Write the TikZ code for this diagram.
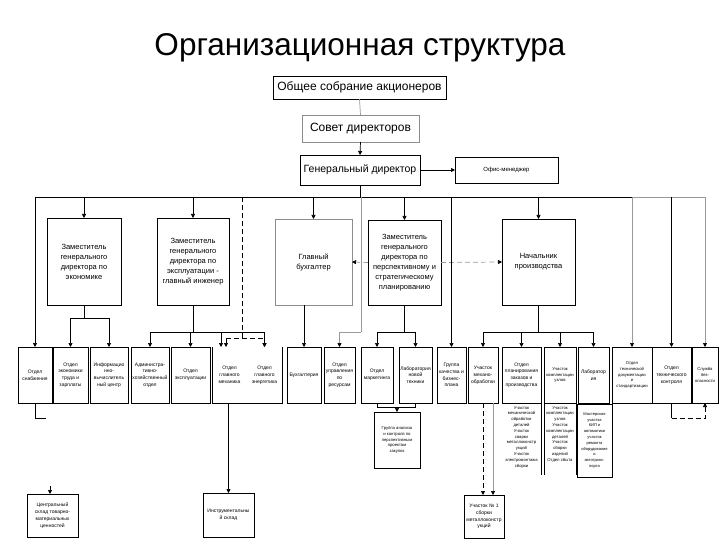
\documentclass[tikz,border=0pt]{standalone}
\usepackage{fontspec}
\setmainfont{Liberation Sans}
\usetikzlibrary{arrows.meta}
\newcommand\ubox[7][]{\node[box,#1,minimum width={#4-#2}, minimum height={#5-#3}, anchor=north west] (#6) at (#2,#3) {#7};}
\begin{document}
\begin{tikzpicture}[x=1pt,y=-1pt,
  box/.style={draw=black, line width=0.7pt, inner sep=0.5pt, outer sep=0pt, align=center},
  gbox/.style={draw=black!45},
  nobox/.style={draw=none},
  ln/.style={line width=0.7pt, draw=black},
  gln/.style={line width=0.7pt, draw=black!40},
  tip/.style={-{Triangle[length=4pt,width=4pt,color=black]}},
  arr/.style={ln, tip},
  garr/.style={gln, tip},
  dsh/.style={ln, dash pattern=on 5pt off 3pt},
  gdsh/.style={gln, dash pattern=on 5pt off 3pt},
  f12/.style={font=\fontsize{12}{14}\selectfont},
  f10/.style={font=\fontsize{10.5}{12}\selectfont},
  f7/.style={font=\fontsize{7.5}{10}\selectfont},
  f5/.style={font=\fontsize{5}{6.8}\selectfont},
  f4/.style={font=\fontsize{4.2}{5.8}\selectfont},
]
\useasboundingbox (0,0) rectangle (720,540);
\fill[white] (0,0) rectangle (720,540);

% title
\node[font=\fontsize{31.5}{35}\selectfont] (title) at (360,48) {Организационная структура};

% top levels
\ubox[f12]{273}{76}{446}{99}{osa}{Общее собрание акционеров}
\ubox[gbox,f12]{302}{115}{419}{142}{sd}{Совет директоров}
\ubox[f10]{300}{155}{420}{185}{gd}{Генеральный директор}
\ubox[font=\fontsize{6}{7}\selectfont]{455}{157}{558}{183}{om}{Офис-менеджер}

\draw[gln] (osa.south) -- (sd.north);
\draw[arr] (sd.south) -- (gd.north);
\draw[arr] (gd.east) -- (om.west);

% bus
\coordinate (bus) at (360,197);
\coordinate (busL) at (35,197);
\coordinate (busM) at (632,197);
\coordinate (busR) at (705,197);
\draw[ln] (gd.south) -- (bus);
\draw[ln] (busL) -- (busM);
\draw[gln] (busM) -- (busR);

% second level
\ubox[f7]{47}{218}{121}{305}{e1}{Заместитель\\генерального\\директора по\\экономике}
\ubox[f7]{157}{218}{229}{305}{e2}{Заместитель\\генерального\\директора по\\эксплуатации -\\главный инженер}
\ubox[gbox,f7]{275}{219}{352}{305}{gb}{Главный\\бухгалтер}
\ubox[f7]{368}{220}{441}{305}{e4}{Заместитель\\генерального\\директора по\\перспективному и\\стратегическому\\планированию}
\ubox[f7]{502}{219}{575}{305}{e5}{Начальник\\производства}

\draw[arr] (e1.north |- bus) -- (e1.north);
\draw[arr] (e2.north |- bus) -- (e2.north);
\draw[arr] (gb.north |- bus) -- (gb.north);
\draw[arr] (e4.north |- bus) -- (e4.north);
\draw[arr] (e5.north |- bus) -- (e5.north);

\draw[gdsh, tip] (e4.west) -- (gb.east);
\draw[gdsh, tip] (e4.east) -- (e5.west);

% bottom row
\ubox[f5]{18}{347}{52}{403}{b1}{Отдел\\снабжения}
\ubox[f5]{53}{347}{88}{403}{b2}{Отдел\\экономики\\труда и\\зарплаты}
\ubox[f5]{90}{347}{128}{403}{b3}{Информацио\\нно-\\вычислитель\\ный центр}
\ubox[f5]{131}{347}{169}{403}{b4}{Администра-\\тивно-\\хозяйственный\\отдел}
\ubox[f5]{171}{347}{210}{403}{b5}{Отдел\\эксплуатации}
\ubox[nobox,f5]{212}{347}{247}{403}{b6}{Отдел\\главного\\механика}
\ubox[nobox,f5]{247}{347}{282}{403}{b7}{Отдел\\главного\\энергетика}
\draw[ln] (b6.north west) -- (b6.south west) -- (b7.south east) -- (b7.north east);
\ubox[f5]{287}{347}{321}{403}{b8}{Бухгалтерия}
\ubox[f5]{324}{347}{355}{403}{b9}{Отдел\\управления\\по\\ресурсам}
\ubox[f5]{361}{347}{393}{403}{b10}{Отдел\\маркетинга}
\ubox[f5]{399}{347}{432}{403}{b11}{Лаборатория\\новой\\техники}
\ubox[f5]{437}{347}{466}{403}{b12}{Группа\\качества и\\бизнес-\\плана}
\ubox[f5]{468}{347}{498}{403}{b13}{Участок\\механо-\\обработки}
\ubox[f5]{502}{347}{541}{403}{b14}{Отдел\\планирования\\заказов и\\производства}
\ubox[f4]{544}{347}{576}{403}{b15}{Участок\\комплектации\\узлов}
\ubox[f5]{578}{347}{609}{403}{b16}{Лаборатор\\ия}
\ubox[f4]{612}{347}{652}{403}{b17}{Отдел\\технической\\документации\\и\\стандартизации}
\ubox[f5]{652}{347}{691}{403}{b18}{Отдел\\технического\\контроля}
\ubox[f4]{692}{347}{718}{403}{b19}{Служба\\без-\\опасности}

% bus to bottom row
\draw[arr] (busL) -- (b1.north);
\draw[arr] (b12.north |- bus) -- (b12.north);
\draw[garr] (busM) -- (b17.north);
\draw[arr] (b18.north |- bus) -- (b18.north);
\draw[garr] (busR) -- (b19.north);

% under deputy for economics
\coordinate (e1j) at (84,318);
\draw[ln] (e1.south) -- (e1j);
\draw[ln] (b2.north |- e1j) -- (b3.north |- e1j);
\draw[arr] (b2.north |- e1j) -- (b2.north);
\draw[arr] (b3.north |- e1j) -- (b3.north);

% under chief engineer
\coordinate (e2j) at (193,332);
\draw[ln] (e2.south) -- (e2j);
\draw[ln] (b4.north |- e2j) -- (b7.north |- e2j);
\draw[arr] (b4.north |- e2j) -- (b4.north);
\draw[arr] (b5.north |- e2j) -- (b5.north);
\draw[arr] ([xshift=-8.5pt]b6.north |- e2j) -- ([xshift=-8.5pt]b6.north);
\draw[arr] (b7.north |- e2j) -- (b7.north);

% dashed line from bus
\coordinate (dtop) at (242,197);
\coordinate (dj) at (242,338);
\draw[dsh] (dtop) -- (dj);
\draw[dsh] ([xshift=-3.5pt]b6.north |- dj) -- (b7.north |- dj);
\draw[dsh, tip] ([xshift=-3.5pt]b6.north |- dj) -- ([xshift=-3.5pt]b6.north);
\draw[dsh, tip] (b7.north |- dj) -- (b7.north);

% chief accountant
\draw[arr] (b8.north |- gb.south) -- (b8.north);

% gray line to resources department
\coordinate (g1) at (361,197);
\coordinate (g2) at (361,332);
\draw[gln] (g1) -- (g2);
\draw[garr] (g2) -| (b9.north);

% under deputy for planning
\coordinate (e4j) at (404.5,332);
\draw[ln] (e4.south) -- (e4j);
\draw[ln] (b10.north |- e4j) -- (b11.north |- e4j);
\draw[arr] (b10.north |- e4j) -- (b10.north);
\draw[arr] (b11.north |- e4j) -- (b11.north);

% under production chief
\coordinate (e5j) at (538.5,332);
\draw[ln] (e5.south) -- (e5j);
\draw[ln] (b13.north |- e5j) -- (b16.north |- e5j);
\draw[arr] (b13.north |- e5j) -- (b13.north);
\draw[arr] (b14.north |- e5j) -- (b14.north);
\draw[arr] (b15.north |- e5j) -- (b15.north);
\draw[arr] (b16.north |- e5j) -- (b16.north);

% lower units
\ubox[f4]{374}{412}{420}{468}{l1}{Группа анализа\\и контроля по\\перспективным\\проектам\\закупок}
\coordinate (j1) at (377,407);
\draw[ln] (b10.south) -- (b10.south |- j1) -- (b11.south |- j1) -- (b11.south);
\draw[arr] (l1.north |- j1) -- (l1.north);

\node[f4, align=center, anchor=north, inner sep=0pt] (l2) at (521.5,406) {Участок\\механической\\обработки\\деталей\\Участок\\сварки\\металлоконстр\\укций\\Участок\\электромонтажа\\сборки};
\node[f4, align=center, anchor=north, inner sep=0pt] (l3) at (560,406) {Участок\\комплектации\\узлов\\Участок\\комплектации\\деталей\\Участок\\сборки\\изделий\\Отдел сбыта};
\draw[ln] (b14.south east) -- ++(0,72);
\draw[ln] (b15.south west) -- ++(0,72);
\draw[ln] (b15.south east) -- ++(0,72);
\ubox[font=\fontsize{4}{5.8}\selectfont]{577}{404}{612}{477}{l4}{Мастерская\\участка\\КИП и\\автоматики\\участок\\ремонта\\оборудования\\и\\автотранс-\\порта};

\ubox[f5]{27}{494}{78}{537}{c1}{Центральный\\склад товарно-\\материальных\\ценностей}
\ubox[f5]{203}{493}{254}{537}{c2}{Инструментальны\\й склад}
\ubox[f5]{464}{495}{504}{538}{c3}{Участок № 1\\сборки\\металлоконстр\\укций}

% connectors to lower units
\coordinate (s1) at (35,418);
\coordinate (s2) at (46,418);
\draw[ln] (b1.south) -- (s1) -- (s2);
\coordinate (c1a) at (50,486);
\draw[arr] (c1a) -- (c1a |- c1.north);
\draw[arr] (c2.north |- b6.south) -- (c2.north);
\draw[dsh, tip] (b13.south) -- (b13.south |- c3.north);
\draw[garr] ([xshift=10pt]b13.south) -- ([xshift=10pt]b13.south |- c3.north);

\coordinate (k1) at (671.5,418);
\draw[ln] (b18.south) -- (k1);
\draw[dsh, tip] (k1) -| (b19.south);
\end{tikzpicture}
\end{document}
